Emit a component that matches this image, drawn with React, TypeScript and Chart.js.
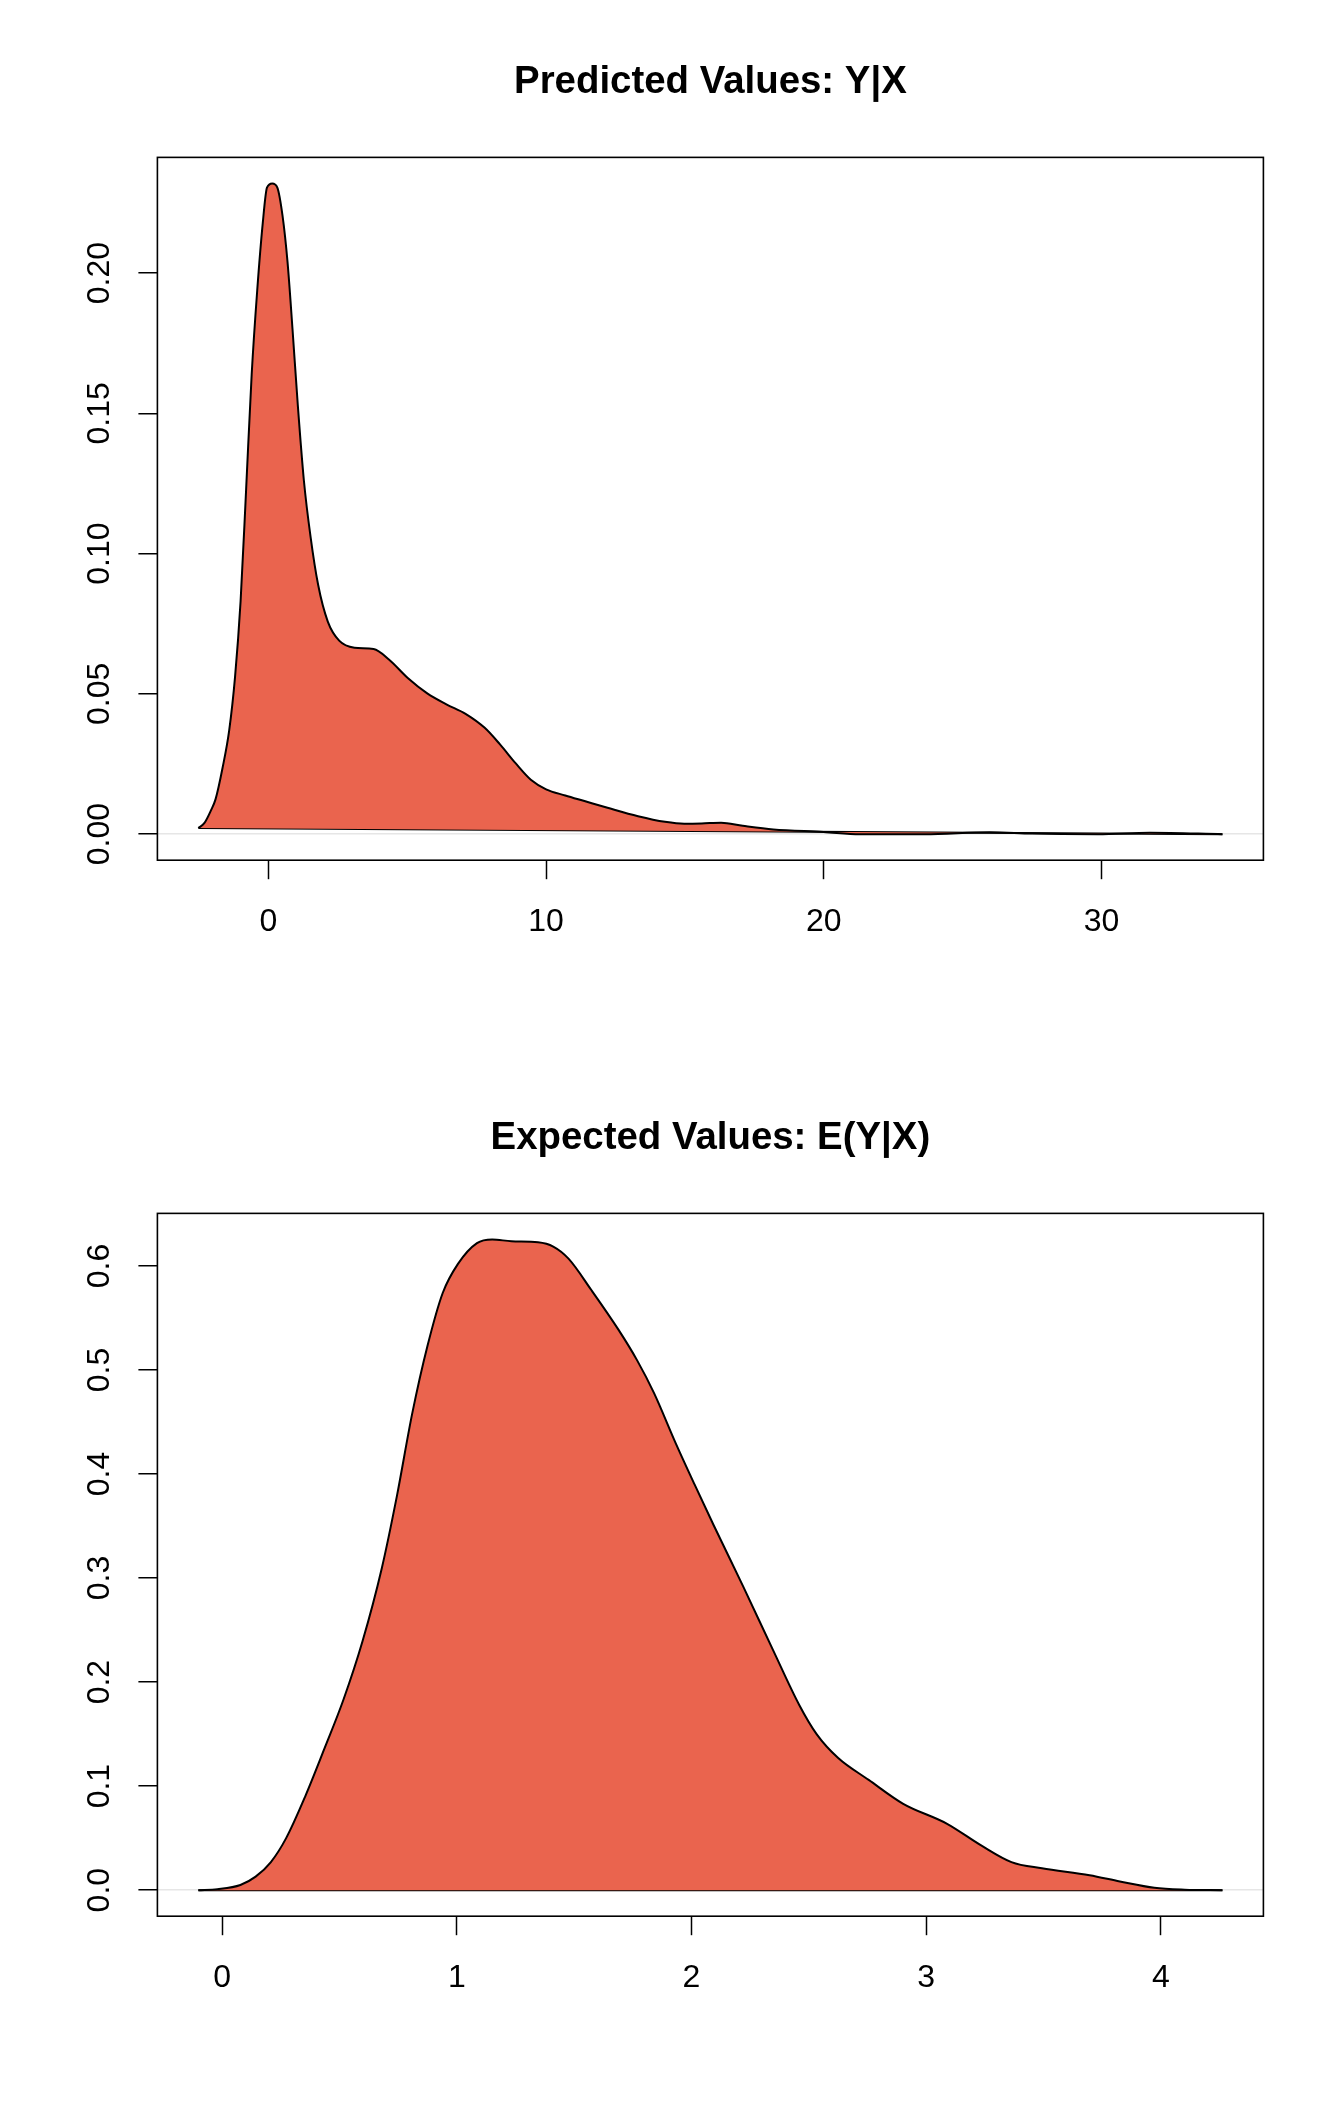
import React, { useEffect, useRef } from 'react';
import { Chart, registerables } from 'chart.js';

Chart.register(...registerables);

// ---------- Data: Predicted Values Y|X ----------
const PRED_X = [
  -2.52, -2.3, -2.07, -1.9, -1.65, -1.41, -1.2, -1.0, -0.8, -0.6, -0.4, -0.2, -0.05,
  0.14, 0.32, 0.51, 0.69, 0.87, 1.06, 1.28, 1.52, 1.79, 2.14, 2.55, 3.1, 3.79, 4.34,
  5.03, 5.72, 6.41, 7.1, 7.79, 8.34, 8.9, 9.45, 10.0, 10.69, 11.38, 12.21, 13.31, 14.28,
  14.97, 15.6, 16.3, 17.08, 18.18, 19.99, 21.3, 23.63, 25.97, 27.5, 29.87, 31.74, 34.35,
];
const PRED_Y = [
  0.0022, 0.004, 0.0084, 0.0125, 0.0236, 0.037, 0.056, 0.083, 0.123, 0.164, 0.194, 0.218, 0.2305,
  0.232, 0.2306, 0.2205, 0.204, 0.18, 0.153, 0.126, 0.106, 0.089, 0.0758, 0.069, 0.0665, 0.066, 0.0623,
  0.0556, 0.0502, 0.0463, 0.0429, 0.0379, 0.032, 0.0253, 0.0194, 0.016, 0.0138, 0.0118, 0.0094, 0.0064, 0.0044,
  0.0037, 0.0038, 0.0041, 0.003, 0.0017, 0.0008, 0.0, 0.0, 0.0007, 0.0002, 0.0, 0.0005, 0.0,
];
const PRED_X_TICKS = [0, 10, 20, 30];
const PRED_Y_TICKS = [0, 0.05, 0.1, 0.15, 0.2];
const PRED_Y_LABELS = ['0.00', '0.05', '0.10', '0.15', '0.20'];

// ---------- Data: Expected Values E(Y|X) ----------
const EXP_X = [
  -0.101, -0.02, 0.078, 0.143, 0.208, 0.273, 0.354, 0.436, 0.517, 0.598, 0.68, 0.745,
  0.81, 0.875, 0.94, 1.005, 1.086, 1.151, 1.233, 1.346, 1.411, 1.476, 1.574, 1.688,
  1.769, 1.84, 1.932, 2.013, 2.094, 2.22, 2.349, 2.459, 2.533, 2.625, 2.755, 2.902,
  3.087, 3.234, 3.363, 3.493, 3.696, 3.825, 3.972, 4.101, 4.262,
];
const EXP_Y = [
  0.0, 0.001, 0.005, 0.013, 0.027, 0.05, 0.09, 0.136, 0.183, 0.239, 0.309, 0.379,
  0.458, 0.523, 0.574, 0.602, 0.622, 0.6255, 0.6237, 0.6227, 0.6186, 0.607, 0.5766, 0.539,
  0.509, 0.478, 0.43, 0.39, 0.351, 0.292, 0.23, 0.178, 0.15, 0.127, 0.106, 0.083,
  0.064, 0.043, 0.027, 0.021, 0.0144, 0.0084, 0.0023, 0.0005, 0.0,
];
const EXP_X_TICKS = [0, 1, 2, 3, 4];
const EXP_Y_TICKS = [0, 0.1, 0.2, 0.3, 0.4, 0.5, 0.6];
const EXP_Y_LABELS = ['0.0', '0.1', '0.2', '0.3', '0.4', '0.5', '0.6'];

const TITLES = ['Predicted Values: Y|X', 'Expected Values: E(Y|X)'];

const FILL = '#EA644E';
const FONT = "'Liberation Sans', Arial, Helvetica, sans-serif";

function padRange(vals: number[]): [number, number] {
  const mn = Math.min(...vals);
  const mx = Math.max(...vals);
  const p = (mx - mn) * 0.04;
  return [mn - p, mx + p];
}

const boxPlugin = {
  id: 'rbox',
  afterDraw(chart: any) {
    const { ctx, chartArea: a } = chart;
    ctx.save();
    ctx.strokeStyle = '#000';
    ctx.lineWidth = 1.6;
    ctx.strokeRect(a.left, a.top, a.right - a.left, a.bottom - a.top);
    ctx.restore();
  },
};

type Props = {
  xs: number[];
  ys: number[];
  xTicks: number[];
  yTicks: number[];
  yLabels: string[];
  title: string;
  yPad: number;
};

function DensityChart({ xs, ys, xTicks, yTicks, yLabels, title, yPad }: Props) {
  const ref = useRef<HTMLCanvasElement | null>(null);
  useEffect(() => {
    if (!ref.current) return;
    const [xmin, xmax] = padRange(xs);
    const [ymin, ymax] = padRange(ys);
    const last = xs.length - 1;
    const chart = new Chart(ref.current, {
      type: 'scatter',
      data: {
        datasets: [
          {
            data: xs.map((x, i) => ({ x, y: ys[i] })),
            showLine: true,
            fill: 'shape',
            backgroundColor: FILL,
            borderColor: '#000',
            borderWidth: 2,
            pointRadius: 0,
            cubicInterpolationMode: 'monotone',
          } as any,
          {
            data: [
              { x: xs[0], y: ys[0] },
              { x: xs[last], y: ys[last] },
            ],
            showLine: true,
            fill: false,
            borderColor: '#000',
            borderWidth: 2,
            pointRadius: 0,
          } as any,
        ],
      },
      options: {
        responsive: false,
        animation: false,
        devicePixelRatio: 1,
        events: [],
        layout: { padding: { left: 0, right: 80.6, top: 0, bottom: 0 } },
        plugins: {
          legend: { display: false },
          tooltip: { enabled: false },
          title: {
            display: true,
            text: title,
            fullSize: false,
            color: '#000',
            font: { family: FONT, size: 38.4, weight: 'bold', lineHeight: 1.2 },
            padding: { top: 59.7, bottom: 51.6 },
          },
        },
        scales: {
          x: {
            type: 'linear',
            position: 'bottom',
            min: xmin,
            max: xmax,
            afterBuildTicks: (s: any) => {
              s.ticks = xTicks.map((v) => ({ value: v }));
            },
            afterFit: (s: any) => {
              s.height = 195.8;
            },
            grid: {
              drawOnChartArea: false,
              drawTicks: true,
              tickLength: 19,
              tickColor: '#000',
              tickWidth: 1.5,
            },
            border: { display: false },
            ticks: {
              color: '#000',
              font: { family: FONT, size: 32 },
              padding: 23.5,
              maxRotation: 0,
              minRotation: 0,
              autoSkip: false,
              callback: (v: any) => String(v),
            },
          },
          y: {
            type: 'linear',
            position: 'left',
            min: ymin,
            max: ymax,
            afterBuildTicks: (s: any) => {
              s.ticks = yTicks.map((v) => ({ value: v }));
            },
            afterFit: (s: any) => {
              s.width = 157.4;
            },
            grid: {
              color: (c: any) => (c.tick && c.tick.value === 0 ? '#E6E6E6' : 'rgba(0,0,0,0)'),
              lineWidth: 1.5,
              drawTicks: true,
              tickLength: 19,
              tickColor: '#000',
              tickWidth: 1.5,
            },
            border: { display: false },
            ticks: {
              color: '#000',
              font: { family: FONT, size: 32 },
              minRotation: 90,
              maxRotation: 90,
              crossAlign: 'center',
              padding: yPad,
              autoSkip: false,
              callback: (_v: any, i: number) => yLabels[i],
            },
          },
        },
      } as any,
      plugins: [boxPlugin],
    });
    return () => chart.destroy();
  }, []);
  return <canvas ref={ref} width={1344} height={1056} style={{ display: 'block', width: 1344, height: 1056 }} />;
}

export default function App() {
  useEffect(() => {
    document.body.style.margin = '0';
    document.body.style.background = '#fff';
  }, []);
  return (
    <div style={{ width: 1344, height: 2112, background: '#fff' }}>
      <DensityChart
        xs={PRED_X}
        ys={PRED_Y}
        xTicks={PRED_X_TICKS}
        yTicks={PRED_Y_TICKS}
        yLabels={PRED_Y_LABELS}
        title={TITLES[0]}
        yPad={7.3}
      />
      <DensityChart
        xs={EXP_X}
        ys={EXP_Y}
        xTicks={EXP_X_TICKS}
        yTicks={EXP_Y_TICKS}
        yLabels={EXP_Y_LABELS}
        title={TITLES[1]}
        yPad={16.2}
      />
    </div>
  );
}
